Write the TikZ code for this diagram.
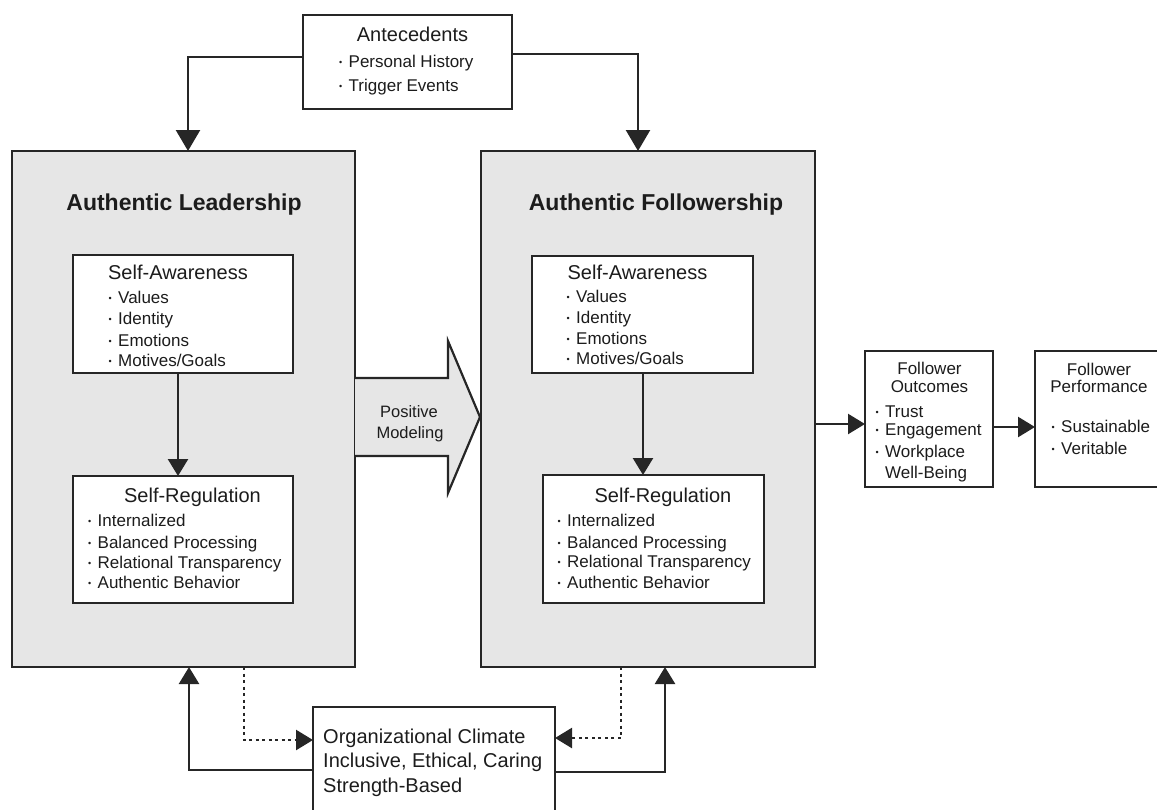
\documentclass[tikz,border=0pt]{standalone}
\usepackage{fontspec}
\setmainfont{Liberation Sans}
\usetikzlibrary{arrows.meta}
\definecolor{ink}{HTML}{1C1C1C}
\definecolor{edge}{HTML}{262626}
\definecolor{panel}{HTML}{E6E6E6}
\newcommand{\fs}[1]{\fontsize{#1}{#1}\selectfont}
\newcommand{\bul}{\makebox[9.5pt][l]{\raisebox{1.6pt}{\fs{9}•}}}

\begin{document}
\begin{tikzpicture}[x=1pt,y=-1pt,
  box/.style={draw=edge, line width=2.7pt, fill=white, rectangle, inner sep=0pt, outer sep=0pt},
  panelbox/.style={box, fill=panel},
  arr/.style={draw=edge, line width=2.4pt, -{Triangle[length=17pt,width=20pt]}},
  bigarr/.style={arr, -{Triangle[length=21pt,width=24pt]}},
  dotarr/.style={draw=edge, line width=2.4pt, dash pattern=on 3pt off 3.5pt, -{Triangle[length=17pt,width=20pt]}},
  txt/.style={inner sep=0pt, text=ink, anchor=base},
  lefttxt/.style={inner sep=0pt, text=ink, anchor=base west},
  title/.style={txt, font=\fs{23}\bfseries},
  head/.style={txt, font=\fs{20}},
  item/.style={lefttxt, font=\fs{17}},
  small/.style={txt, font=\fs{17}},
]
\useasboundingbox (0,0) rectangle (1157,809);

% antecedents
\node[box, minimum width=209, minimum height=94] (ant) at (407.5,62) {};
\node[head] (antT) at (412.5,41) {Antecedents};
\node[item] (ant1) at (339,67) {\bul Personal History};
\node[item] (ant2) at (339,91) {\bul Trigger Events};

% leader panel
\node[panelbox, minimum width=343, minimum height=516] (lead) at (183.5,409) {};

% positive modeling arrow between the panels
\draw[draw=edge, fill=panel, line width=2.2pt]
  (lead.east |- 0,378) -- (448,378) -- (448,341) -- (480,417)
  -- (448,493) -- (448,456) -- (lead.east |- 0,456);
\node[small, font=\fs{16.5}] (pm1) at (409,417) {Positive};
\node[small, font=\fs{16.5}] (pm2) at (410,438) {Modeling};

% follower panel
\node[panelbox, minimum width=334, minimum height=516] (foll) at (648,409) {};

\node[title] (leadT) at (184,210) {Authentic Leadership};
\node[title] (follT) at (656,210) {Authentic Followership};

% leader self-awareness / self-regulation
\node[box, minimum width=220, minimum height=118] (lsa) at (183,314) {};
\node[head] (lsaT) at (178,279) {Self-Awareness};
\node[item] (lsa1) at (108.5,303) {\bul Values};
\node[item] (lsa2) at (108.5,324) {\bul Identity};
\node[item] (lsa3) at (108.5,346) {\bul Emotions};
\node[item] (lsa4) at (108.5,366) {\bul Motives/Goals};

\node[box, minimum width=220, minimum height=127] (lsr) at (183,539.5) {};
\node[head] (lsrT) at (192.5,502) {Self-Regulation};
\node[item] (lsr1) at (88,526) {\bul Internalized};
\node[item] (lsr2) at (88,548) {\bul Balanced Processing};
\node[item] (lsr3) at (88,568) {\bul Relational Transparency};
\node[item] (lsr4) at (88,588) {\bul Authentic Behavior};

% follower self-awareness / self-regulation
\node[box, minimum width=221, minimum height=117] (rsa) at (642.5,314.5) {};
\node[head] (rsaT) at (637.5,279) {Self-Awareness};
\node[item] (rsa1) at (566.5,302) {\bul Values};
\node[item] (rsa2) at (566.5,323) {\bul Identity};
\node[item] (rsa3) at (566.5,344) {\bul Emotions};
\node[item] (rsa4) at (566.5,364) {\bul Motives/Goals};

\node[box, minimum width=221, minimum height=128] (rsr) at (653.5,539) {};
\node[head] (rsrT) at (663,502) {Self-Regulation};
\node[item] (rsr1) at (557.5,526) {\bul Internalized};
\node[item] (rsr2) at (557.5,548) {\bul Balanced Processing};
\node[item] (rsr3) at (557.5,567) {\bul Relational Transparency};
\node[item] (rsr4) at (557.5,588) {\bul Authentic Behavior};

% outcomes
\node[box, minimum width=128, minimum height=136] (out) at (929,419) {};
\node[small] (outT1) at (929.5,374) {Follower};
\node[small] (outT2) at (929.5,392) {Outcomes};
\node[item] (out1) at (875.5,417) {\bul Trust};
\node[item] (out2) at (875.5,435) {\bul Engagement};
\node[item] (out3) at (875.5,457) {\bul Workplace};
\node[item] (out4) at (885,478) {Well-Being};

\node[box, minimum width=127, minimum height=136] (perf) at (1098.5,419) {};
\node[small] (perfT1) at (1099,375) {Follower};
\node[small] (perfT2) at (1099,392) {Performance};
\node[item] (perf1) at (1051.5,432) {\bul Sustainable};
\node[item] (perf2) at (1051.5,454) {\bul Veritable};

% organizational climate
\node[box, minimum width=242, minimum height=106] (org) at (434,760) {};
\node[lefttxt, font=\fs{20}] (org1) at (323,743) {Organizational Climate};
\node[lefttxt, font=\fs{20}] (org2) at (323,767) {Inclusive, Ethical, Caring};
\node[lefttxt, font=\fs{20}] (org3) at (323,792) {Strength-Based};

% connectors
\draw[bigarr] (ant.west |- 0,57) -| (lead.north -| 188,0);
\draw[bigarr] (ant.east |- 0,54) -| (foll.north -| 638,0);
\draw[arr] (lsa.south -| 178,0) -- (lsr.north -| 178,0);
\draw[arr] (rsa.south -| 643,0) -- (rsr.north -| 643,0);
\draw[arr] (foll.east |- 0,424) -- (out.west |- 0,424);
\draw[arr] (out.east |- 0,427) -- (perf.west |- 0,427);
\draw[arr] (org.west |- 0,770) -| (lead.south -| 189,0);
\draw[arr] (org.east |- 0,772) -| (foll.south -| 665,0);
\draw[dotarr] (lead.south -| 244,0) |- (org.west |- 0,740);
\draw[dotarr] (foll.south -| 621,0) |- (org.east |- 0,738);
\end{tikzpicture}
\end{document}
